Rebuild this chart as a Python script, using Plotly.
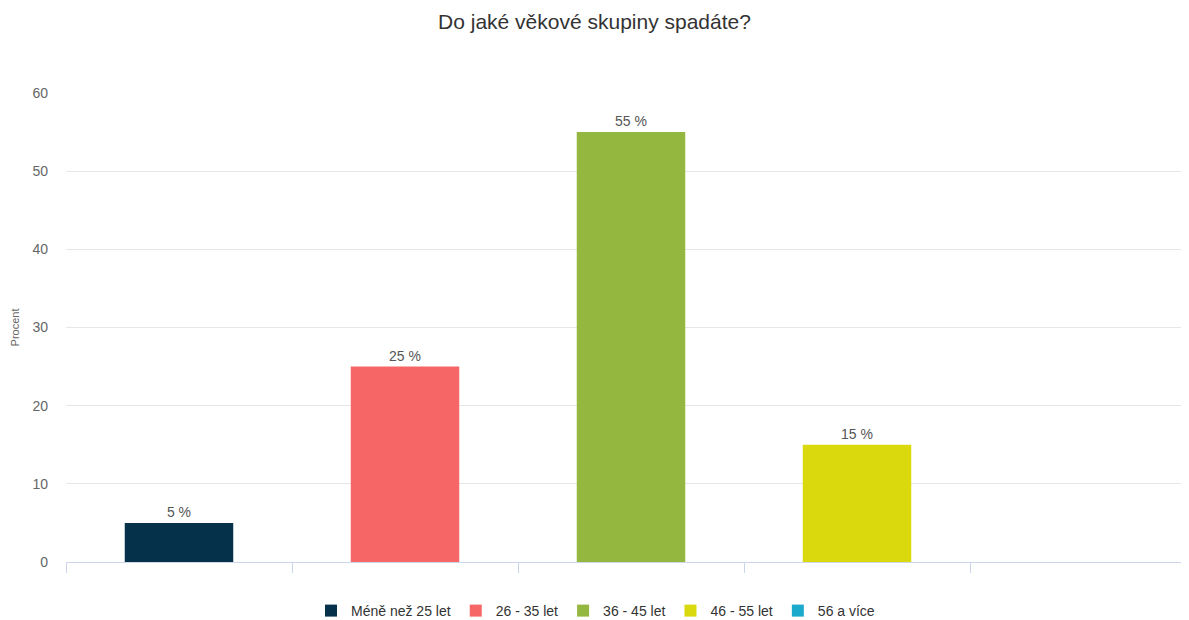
import plotly.graph_objects as go

title = "Do jaké věkové skupiny spadáte?"
categories = ["Méně než 25 let", "26 - 35 let", "36 - 45 let", "46 - 55 let", "56 a více"]
values = [5, 25, 55, 15, 0]
colors = ["#05324A", "#F66666", "#94B740", "#D9D90D", "#1BA9CC"]
y_ticks = [0, 10, 20, 30, 40, 50, 60]
y_title = "Procent"

FONT = "Liberation Sans, Arial, sans-serif"

fig = go.Figure()
for cat, val, col in zip(categories, values, colors):
    fig.add_trace(go.Bar(
        x=[cat], y=[val], name=cat,
        marker=dict(color=col, line=dict(width=0)),
        width=0.48,
        text=[f"{val} %" if val > 0 else ""],
        textposition="outside",
        textfont=dict(family=FONT, size=14, color="#555555"),
        cliponaxis=False,
    ))

# the page has an 8px body margin: the figure is placed at (8, 8)
OFF = 8
W, H = 1189 - OFF, 620 - OFF
plot_left_px, plot_top_px, plot_bottom_px = 66, 93, 562
left = plot_left_px - OFF
top = plot_top_px - OFF
bottom = H - (plot_bottom_px - OFF)
right = 0
plot_w = W - left - right
cat_px = 226
x_max = plot_w / cat_px - 0.5

legend_left = 311 - OFF
legend_mid = 611 - OFF

fig.update_layout(
    width=W, height=H,
    margin=dict(l=left, r=right, t=top, b=bottom, pad=0, autoexpand=False),
    paper_bgcolor="white", plot_bgcolor="white",
    barmode="overlay",
    font=dict(family=FONT, color="#333333"),
    title=dict(text=title, x=(1189 / 2 - OFF) / W, xanchor="center", xref="container",
               y=1 - (22 - OFF) / H, yref="container", yanchor="middle",
               font=dict(family=FONT, size=21, color="#333333")),
    showlegend=True,
    legend=dict(orientation="h", xref="container", x=legend_left / W, xanchor="left",
                yref="container", y=1 - legend_mid / H, yanchor="middle",
                font=dict(family=FONT, size=14, color="#333333"),
                bgcolor="rgba(0,0,0,0)", traceorder="normal"),
    xaxis=dict(
        type="category", categoryorder="array", categoryarray=categories,
        range=[-0.5, x_max], showticklabels=False,
        showgrid=False, zeroline=False,
        showline=True, linecolor="#CCD6EB", linewidth=1,
        ticks="outside", tickson="boundaries", ticklen=10, tickcolor="#CCD6EB",
        tickwidth=1,
    ),
    yaxis=dict(
        range=[0, 60], tickvals=y_ticks,
        showgrid=True, gridcolor="#E6E6E6", gridwidth=1,
        zeroline=False, showline=False,
        tickfont=dict(family=FONT, size=14, color="#666666"),
        ticklabelstandoff=17,
        title=dict(text=y_title, standoff=10,
                   font=dict(family=FONT, size=11, color="#666666")),
    ),
)

fig.write_html("out.html")
